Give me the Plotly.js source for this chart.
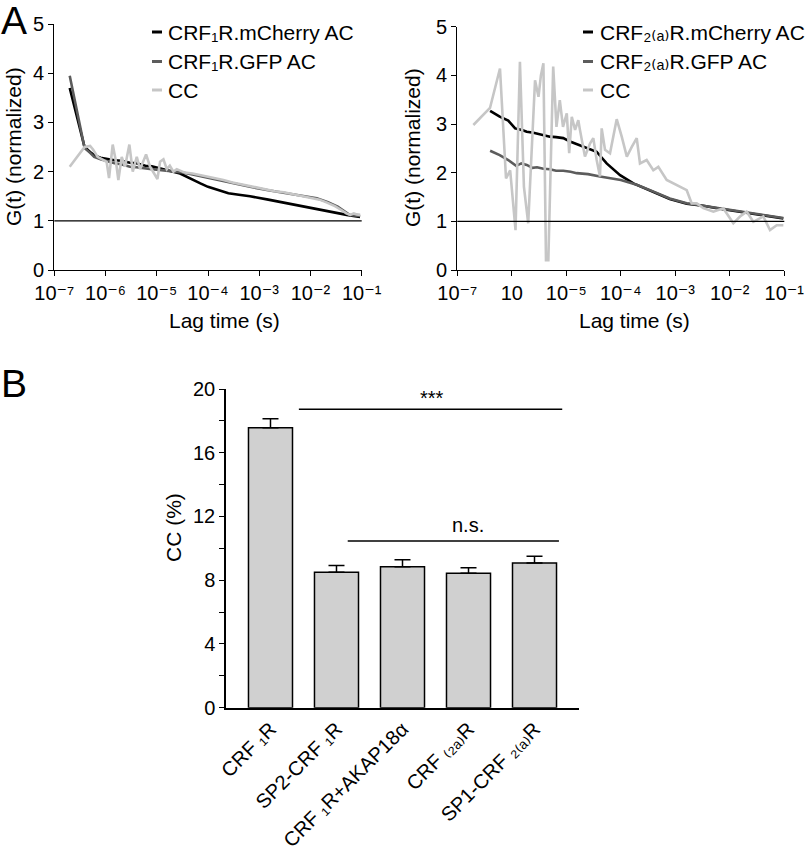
<!DOCTYPE html>
<html><head><meta charset="utf-8">
<script src="https://cdn.plot.ly/plotly-3.0.1.min.js"></script>
<style>html,body{margin:0;padding:0;background:#fff}#chart{width:809px;height:855px}</style>
</head><body><div id="chart"></div>
<script>
// ---------- Panel A (left): CRF1R ----------
const tA1Cherry = [2e-7,3.9e-7,5e-7,6e-7,8e-7,1e-6,1.5e-6,2e-6,3e-6,4e-6,6e-6,8e-6,1e-5,1.5e-5,2e-5,2.85e-5,4e-5,7.1e-5,1e-4,1.48e-4,2.5e-4,4e-4,6.6e-4,1.5e-3,2.95e-3,6e-3,1.33e-2,2.5e-2,5.1e-2,9.3e-2];
const gA1Cherry = [3.70,2.50,2.40,2.33,2.28,2.26,2.23,2.22,2.18,2.17,2.12,2.11,2.08,2.04,2.00,1.96,1.88,1.76,1.69,1.63,1.56,1.53,1.50,1.43,1.37,1.30,1.23,1.17,1.12,1.08];
const tA1GFP = [2e-7,3.9e-7,5e-7,6e-7,8e-7,1e-6,1.5e-6,2e-6,3e-6,4e-6,6e-6,8e-6,1e-5,1.5e-5,2e-5,2.85e-5,5e-5,1e-4,1.48e-4,3e-4,6.6e-4,1.5e-3,2.95e-3,6e-3,1.33e-2,2.2e-2,3.4e-2,5.8e-2,9.3e-2];
const gA1GFP = [3.95,2.48,2.38,2.30,2.25,2.22,2.17,2.15,2.10,2.09,2.06,2.05,2.04,2.02,2.00,1.99,1.94,1.87,1.83,1.76,1.69,1.62,1.57,1.51,1.46,1.38,1.29,1.12,1.10];
const tA1CC = [2e-7,3.9e-7,5e-7,5.7e-7,7e-7,8.9e-7,1.05e-6,1.17e-6,1.38e-6,1.6e-6,1.78e-6,2.07e-6,2.4e-6,2.92e-6,3.4e-6,4.07e-6,4.72e-6,6.18e-6,7.4e-6,1.03e-5,1.16e-5,1.35e-5,1.57e-5,1.8e-5,2.11e-5,2.46e-5,2.85e-5,3.5e-5,5e-5,7e-5,1e-4,1.5e-4,2e-4,3e-4,5e-4,7e-4,1e-3,1.5e-3,2e-3,3e-3,5e-3,7e-3,1e-2,1.5e-2,2e-2,3e-2,4e-2,5e-2,6e-2,7e-2,8e-2,9.3e-2];
const gA1CC = [2.10,2.50,2.52,2.45,2.30,2.25,2.20,1.87,2.55,2.20,1.83,2.30,2.10,2.55,2.00,2.30,2.05,2.35,2.10,1.85,2.20,2.25,2.05,2.12,2.00,2.05,2.02,1.98,1.96,1.93,1.89,1.85,1.83,1.78,1.73,1.70,1.66,1.63,1.60,1.58,1.53,1.49,1.47,1.43,1.38,1.30,1.22,1.15,1.12,1.15,1.13,1.12];

// ---------- Panel A (right): CRF2(a)R ----------
const tA2Cherry = [4e-7,6e-7,8.6e-7,1.15e-6,1.5e-6,1.88e-6,2.5e-6,3.3e-6,4.2e-6,5e-6,6.5e-6,8.8e-6,1.17e-5,1.55e-5,2.04e-5,2.8e-5,3.6e-5,5.5e-5,9.7e-5,1.7e-4,4e-4,7.9e-4,1.62e-3,3.24e-3,6.6e-3,1.3e-2,2.7e-2,5.5e-2,9.6e-2];
const gA2Cherry = [3.27,3.15,3.07,2.91,2.88,2.84,2.82,2.79,2.76,2.74,2.73,2.71,2.64,2.59,2.53,2.48,2.43,2.19,1.95,1.78,1.60,1.46,1.36,1.32,1.26,1.21,1.16,1.11,1.06];
const tA2GFP = [4e-7,6e-7,8.6e-7,1.2e-6,1.5e-6,1.88e-6,2.4e-6,2.9e-6,3.8e-6,5e-6,6.5e-6,8.8e-6,1.2e-5,1.55e-5,2.5e-5,4.15e-5,1e-4,1.96e-4,4e-4,7.9e-4,1.62e-3,3.24e-3,6.6e-3,1.3e-2,2.7e-2,5.5e-2,9.6e-2];
const gA2GFP = [2.45,2.36,2.26,2.14,2.19,2.16,2.10,2.11,2.08,2.07,2.04,2.04,2.02,1.99,1.97,1.92,1.85,1.75,1.61,1.47,1.37,1.32,1.27,1.22,1.17,1.12,1.07];
const tA2CC = [1.97e-7,3.98e-7,6.07e-7,7.83e-7,9.33e-7,1.17e-6,1.41e-6,1.67e-6,2.0e-6,2.67e-6,3.09e-6,3.42e-6,3.8e-6,4.24e-6,4.68e-6,5.75e-6,6.6e-6,7.6e-6,8.7e-6,1.02e-5,1.13e-5,1.26e-5,1.45e-5,1.66e-5,1.78e-5,2.2e-5,2.72e-5,3.13e-5,3.61e-5,4.15e-5,4.46e-5,5.13e-5,6.34e-5,8.41e-5,1.04e-4,1.29e-4,1.59e-4,1.96e-4,2.25e-4,2.98e-4,3.95e-4,4.88e-4,6.95e-4,9.19e-4,1.22e-3,1.62e-3,2.0e-3,2.47e-3,3.27e-3,5.0e-3,7.6e-3,1.16e-2,1.54e-2,2.04e-2,2.7e-2,4.12e-2,5.47e-2,7.25e-2,9.6e-2];
const gA2CC = [2.98,3.33,4.14,1.88,2.05,0.82,4.28,1.71,0.96,3.90,3.56,4.00,4.25,0.20,0.20,4.18,2.94,3.49,2.94,3.22,2.40,3.15,2.88,3.08,2.88,2.33,2.60,2.71,2.26,1.92,2.91,2.47,2.40,3.10,2.74,2.33,2.53,2.71,2.19,2.26,2.05,2.12,1.85,1.78,1.71,1.64,1.37,1.37,1.27,1.20,1.27,0.96,1.10,1.20,0.99,1.10,0.82,0.92,0.92];

const decadeVals = [1e-7,1e-6,1e-5,1e-4,1e-3,1e-2,1e-1];
const decadeTextLeft = ['10⁻⁷','10⁻⁶','10⁻⁵','10⁻⁴','10⁻³','10⁻²','10⁻¹'];
const decadeTextRight = ['10⁻⁷','10','10⁻⁵','10⁻⁴','10⁻³','10⁻²','10⁻¹'];
const legendLeft = ['CRF₁R.mCherry AC','CRF₁R.GFP AC','CC'];
const legendRight = ['CRF₂₍ₐ₎R.mCherry AC','CRF₂₍ₐ₎R.GFP AC','CC'];

// ---------- Panel B ----------
const barCategories = ['CRF ₁R','SP2-CRF ₁R','CRF ₁R+AKAP18α','CRF ₍₂ₐ₎R','SP1-CRF ₂₍ₐ₎R'];
const barValues = [17.57, 8.50, 8.85, 8.44, 9.08];
const barErrors = [0.57, 0.42, 0.44, 0.35, 0.42];
const barTickVals = [0,4,8,12,16,20];

// ---------- styling ----------
const W = 809, H = 855;
const fx = p => p / W;
const fy = p => 1 - p / H;
const FONT = 'Liberation Sans, Arial, DejaVu Sans, sans-serif';
const C_BLACK = '#000000', C_DARK = '#5c5c5c', C_LIGHT = '#c6c6c6';
const seriesColors = [C_BLACK, C_DARK, C_LIGHT];
const LW = 2.6;

const traces = [
  {x:tA1Cherry, y:gA1Cherry, xaxis:'x', yaxis:'y', mode:'lines', line:{color:C_BLACK,width:LW}},
  {x:tA1GFP, y:gA1GFP, xaxis:'x', yaxis:'y', mode:'lines', line:{color:C_DARK,width:LW}},
  {x:tA1CC, y:gA1CC, xaxis:'x', yaxis:'y', mode:'lines', line:{color:C_LIGHT,width:LW}},
  {x:tA2Cherry, y:gA2Cherry, xaxis:'x2', yaxis:'y2', mode:'lines', line:{color:C_BLACK,width:LW}},
  {x:tA2GFP, y:gA2GFP, xaxis:'x2', yaxis:'y2', mode:'lines', line:{color:C_DARK,width:LW}},
  {x:tA2CC, y:gA2CC, xaxis:'x2', yaxis:'y2', mode:'lines', line:{color:C_LIGHT,width:LW}},
  {type:'bar', x:[0,1,2,3,4], y:barValues, xaxis:'x3', yaxis:'y3', width:0.667,
   marker:{color:'#d0d0d0', line:{color:'#000', width:1.5}},
   error_y:{type:'data', array:barErrors, arrayminus:barErrors.map(()=>0), symmetric:false, color:'#000', thickness:1.5, width:8}}
];

const tickFont = {family:FONT, size:20, color:'#000'};
const logAxis = (dom, anchor, texts) => ({
  type:'log', range:[-7,-1], domain:dom, anchor:anchor,
  tickmode:'array', tickvals:decadeVals, ticktext:texts,
  ticks:'outside', ticklen:5, tickwidth:1.3, tickcolor:'#000',
  showline:true, linecolor:'#000', linewidth:1.3, showgrid:false, zeroline:false,
  tickfont:tickFont
});
const gAxis = (dom, anchor) => ({
  range:[0,5], domain:dom, anchor:anchor, dtick:1, tick0:0,
  ticks:'outside', ticklen:5, tickwidth:1.3, tickcolor:'#000',
  showline:true, linecolor:'#000', linewidth:1.3, showgrid:false, zeroline:false,
  tickfont:tickFont
});

const annotations = [];
const shapes = [];
function txt(text, x, y, size, opts) {
  annotations.push(Object.assign({text:text, xref:'paper', yref:'paper', x:fx(x), y:fy(y), showarrow:false,
    font:{family:FONT, size:size, color:'#000'}, xanchor:'center', yanchor:'middle'}, opts||{}));
}
// panel letters
txt('A', -1, 20, 39, {xanchor:'left'});
txt('B', -1, 383, 39, {xanchor:'left'});
// axis titles
txt('G(t) (normalized)', 14, 147, 21, {textangle:-90});
txt('G(t) (normalized)', 413, 147, 21, {textangle:-90});
txt('Lag time (s)', 224.6, 320, 21);
txt('Lag time (s)', 634.7, 320, 21);
txt('CC (%)', 173, 528, 21, {textangle:-90});
// legends
const legY = [32, 61.5, 90];
legendLeft.forEach((s,i) => {
  txt(s, 166, legY[i], 21, {xanchor:'left'});
  shapes.push({type:'line', xref:'paper', yref:'paper', x0:fx(152), x1:fx(162), y0:fy(legY[i]), y1:fy(legY[i]), line:{color:seriesColors[i], width:3}});
});
legendRight.forEach((s,i) => {
  txt(s, 598, legY[i], 21, {xanchor:'left'});
  shapes.push({type:'line', xref:'paper', yref:'paper', x0:fx(583), x1:fx(593), y0:fy(legY[i]), y1:fy(legY[i]), line:{color:seriesColors[i], width:3}});
});
// reference lines at G=1
shapes.push({type:'line', xref:'x domain', yref:'y', x0:0, x1:1, y0:1, y1:1, line:{color:'#000', width:1.3}});
shapes.push({type:'line', xref:'x2 domain', yref:'y2', x0:0, x1:1, y0:1, y1:1, line:{color:'#000', width:1.3}});
// significance markers
shapes.push({type:'line', xref:'x3', yref:'y3', x0:0.43, x1:4.42, y0:18.73, y1:18.73, line:{color:'#000', width:1.4}});
shapes.push({type:'line', xref:'x3', yref:'y3', x0:1.17, x1:4.37, y0:10.46, y1:10.46, line:{color:'#000', width:1.4}});
annotations.push({text:'***', xref:'x3', yref:'y3', x:2.45, y:19.45, showarrow:false, font:{family:FONT,size:20,color:'#000'}, yanchor:'middle'});
annotations.push({text:'n.s.', xref:'x3', yref:'y3', x:2.99, y:11.44, showarrow:false, font:{family:FONT,size:20,color:'#000'}, yanchor:'middle'});

const layout = {
  width:W, height:H, margin:{l:0,r:0,t:0,b:0}, paper_bgcolor:'#fff', plot_bgcolor:'rgba(0,0,0,0)',
  showlegend:false, font:{family:FONT, color:'#000'},
  xaxis: logAxis([fx(54.3), fx(361.7)], 'y', decadeTextLeft),
  yaxis: gAxis([fy(270), fy(24)], 'x'),
  xaxis2: logAxis([fx(457.3), fx(784.3)], 'y2', decadeTextRight),
  yaxis2: gAxis([fy(270), fy(26.7)], 'x2'),
  xaxis3: {domain:[fx(226), fx(579)], anchor:'y3', range:[-0.674, 4.674],
    tickmode:'array', tickvals:[0,1,2,3,4], ticktext:barCategories, tickangle:-45,
    ticks:'', showline:true, linecolor:'#000', linewidth:1.5, showgrid:false, zeroline:false,
    tickfont:{family:FONT, size:20, color:'#000'}},
  yaxis3: {domain:[fy(707.7), fy(389)], anchor:'x3', range:[0,20],
    tickmode:'array', tickvals:barTickVals, ticks:'outside', ticklen:5, tickwidth:1.3, tickcolor:'#000',
    minor:{tickmode:'linear', tick0:0, dtick:2, ticks:'outside', ticklen:5, tickwidth:1.3, tickcolor:'#000'},
    showline:true, linecolor:'#000', linewidth:1.5, showgrid:false, zeroline:false,
    tickfont:{family:FONT, size:20, color:'#000'}},
  shapes:shapes, annotations:annotations
};
Plotly.newPlot('chart', traces, layout, {displayModeBar:false});
</script></body></html>
